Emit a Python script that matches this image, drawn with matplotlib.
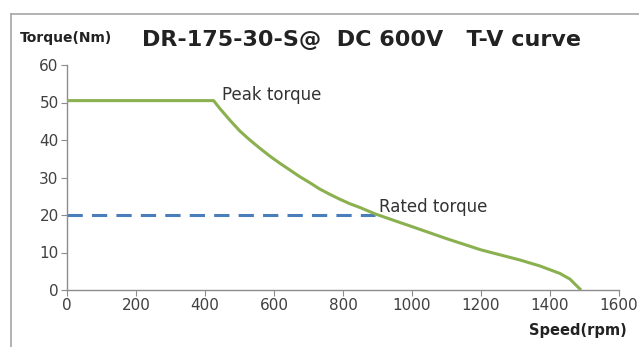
import matplotlib
matplotlib.use("Agg")
import matplotlib.pyplot as plt
from matplotlib.lines import Line2D

speed = [0, 425, 443, 472, 501, 530, 559, 588, 617, 646, 675, 704, 733, 762, 791,
         820, 849, 893, 965, 1000, 1100, 1200, 1313, 1371, 1429, 1458, 1472, 1482, 1490]
torque = [50.5, 50.5, 48.4, 45.3, 42.4, 40.0, 37.8, 35.7, 33.8, 32.0, 30.2, 28.6, 26.9, 25.5, 24.2,
          23.0, 22.0, 20.3, 18.0, 16.9, 13.7, 10.7, 8.0, 6.4, 4.4, 2.9, 1.6, 0.7, 0]
rated_speed = [0, 893]
rated_torque = [20, 20]
xticks = [0, 200, 400, 600, 800, 1000, 1200, 1400, 1600]
yticks = [0, 10, 20, 30, 40, 50, 60]

fig = plt.figure(figsize=(6.39, 3.47), dpi=100)
W, H = 639, 347
ax = fig.add_axes([67 / W, 1 - 290 / H, (619 - 67) / W, (290 - 65) / H])

ax.plot(speed, torque, color="#8BB050", lw=2.2, solid_capstyle="butt",
        solid_joinstyle="round", zorder=3)
ax.plot(rated_speed, rated_torque, color="#4A7EBB", lw=2.2, dashes=(5, 3), zorder=2)

ax.set_xlim(0, 1600)
ax.set_ylim(0, 60)
ax.set_xticks(xticks)
ax.set_yticks(yticks)
for s in ["top", "right"]:
    ax.spines[s].set_visible(False)
for s in ["left", "bottom"]:
    ax.spines[s].set_color("#8c8c8c")
    ax.spines[s].set_linewidth(1.0)
ax.tick_params(colors="#8c8c8c", labelcolor="#404040", labelsize=11, length=4, direction="out")
ax.tick_params(axis="x", pad=2)
ax.tick_params(axis="y", pad=2)

ax.text(450, 50.5 + 1.5, "Peak torque", fontsize=12, color="#333333", ha="left", va="center")
ax.text(905, 22, "Rated torque", fontsize=12, color="#333333", ha="left", va="center")

fig.text(361 / W, 1 - 40 / H, "DR-175-30-S@  DC 600V   T-V curve", fontsize=16,
         fontweight="bold", color="#222222", ha="center", va="center")
fig.text(20 / W, 1 - 38 / H, "Torque(Nm)", fontsize=10, fontweight="bold",
         color="#222222", ha="left", va="center")
fig.text(627 / W, 1 - 330 / H, "Speed(rpm)", fontsize=10.5, fontweight="bold",
         color="#222222", ha="right", va="center")

# outer frame lines
fig.add_artist(Line2D([11 / W, 11 / W], [0, 1 - 14 / H], transform=fig.transFigure,
                      color="#a6a6a6", lw=1.2))
fig.add_artist(Line2D([11 / W, 1], [1 - 14 / H, 1 - 14 / H], transform=fig.transFigure,
                      color="#a6a6a6", lw=1.2))

fig.savefig("out.png", dpi=100)
